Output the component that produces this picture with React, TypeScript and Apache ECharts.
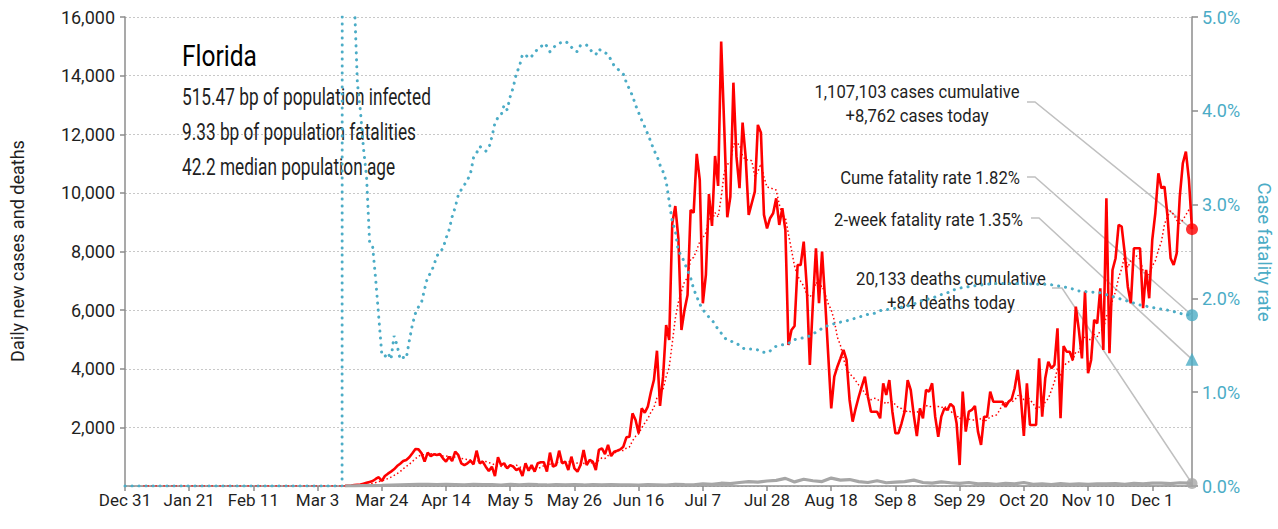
import React, { useEffect, useRef } from "react";
import * as echarts from "echarts";

// ---------- data ----------
const START_UTC = Date.UTC(2019, 11, 31); // day 0 = Dec 31, 2019
const MONTHS = ["Jan", "Feb", "Mar", "Apr", "May", "Jun", "Jul", "Aug", "Sep", "Oct", "Nov", "Dec"];
const LAST_DAY = 349; // Dec 14, 2020
const TICK_STEP_DAYS = 21;

const STATE_NAME = "Florida";
const STAT_LINES = [
  "515.47 bp of population infected",
  "9.33 bp of population fatalities",
  "42.2 median population age",
];
const CASES_CUMULATIVE_TEXT = ["1,107,103 cases cumulative", "+8,762 cases today"];
const CUME_CFR_TEXT = "Cume fatality rate 1.82%";
const TWO_WEEK_CFR_TEXT = "2-week fatality rate 1.35%";
const DEATHS_CUMULATIVE_TEXT = ["20,133 deaths cumulative", "+84 deaths today"];
const LEFT_AXIS_NAME = "Daily new cases and deaths";
const RIGHT_AXIS_NAME = "Case fatality rate";

const CASES_TODAY = 8762;
const DEATHS_TODAY = 84;
const CUME_CFR = 1.82;
const TWO_WEEK_CFR = 1.35;

// daily new cases, starting at day 72 (Mar 12)
const CASES_START_DAY = 72;
const DAILY_CASES = [
  5, 10, 15, 30, 40, 50, 80, 110, 140, 170,
  240, 300, 170, 340, 420, 490, 570, 680, 760, 850,
  890, 980, 1115, 1260, 1250, 1115, 830, 1140, 1020, 1080,
  1060, 1090, 945, 830, 1000, 850, 1170, 1060, 775, 715,
  775, 865, 740, 1205, 775, 830, 660, 510, 660, 340,
  980, 715, 775, 600, 715, 660, 545, 600, 340, 775,
  520, 715, 490, 775, 810, 810, 490, 1140, 660, 715,
  1205, 775, 830, 545, 1000, 600, 490, 715, 1230, 715,
  890, 830, 545, 1230, 1285, 1090, 1400, 1020, 1170, 1205,
  1250, 1340, 1660, 1680, 2480, 2250, 1800, 2650, 2500, 2705,
  3200, 3615, 4615, 2730, 3730, 5490, 4980, 8960, 9550, 8450,
  5320, 6000, 6515, 9415, 9325, 11330, 10440, 6235, 7200, 9960,
  8870, 11260, 10235, 15160, 12260, 9170, 9870, 13760, 11235, 10160,
  12395, 11235, 9250, 9645, 10040, 12320, 12055, 9250, 8790, 9135,
  9305, 9815, 8905, 9475, 8735, 4810, 5320, 5460, 7540, 7540,
  8335, 6800, 4130, 6235, 8110, 6235, 7995, 6345, 4500, 2650,
  3730, 4070, 4350, 4640, 4300, 2935, 2195, 2650, 3045, 3400,
  3730, 3045, 2535, 2535, 2535, 2310, 3505, 3105, 3615, 2535,
  1800, 1800, 2140, 2535, 3615, 3275, 2420, 1705, 2650, 2310,
  3275, 3220, 3505, 2365, 1680, 2365, 2650, 2595, 2800, 2705,
  2140, 715, 3220, 1855, 2535, 2595, 2730, 1855, 1400, 2365,
  2365, 3220, 2875, 2875, 2875, 2875, 2705, 2875, 2960, 3335,
  3960, 3045, 1705, 3505, 2080, 2080, 2080, 4355, 2365, 3675,
  4240, 4015, 4130, 5380, 2310, 4775, 4580, 4580, 4300, 6120,
  5320, 4355, 6630, 3845, 4300, 5665, 5550, 6745, 4640, 9815,
  4530, 7370, 7770, 8905, 8850, 7940, 6800, 6235, 8110, 8110,
  8110, 6065, 7370, 6405, 8395, 9305, 10670, 10160, 10215, 9190,
  7770, 7540, 7940, 9870, 11010, 11405, 10440, 8762,
];

// daily deaths [day, deaths]
const DAILY_DEATHS: [number, number][] = [
  [72, 0], [75, 5], [78, 10], [81, 15], [84, 20], [87, 30], [90, 40], [93, 50], [96, 60], [99, 55],
  [102, 45], [105, 60], [108, 50], [111, 40], [114, 60], [117, 45], [120, 50], [123, 30], [126, 55], [129, 40],
  [132, 60], [135, 45], [138, 35], [141, 50], [144, 40], [147, 45], [150, 35], [153, 50], [156, 40], [159, 45],
  [162, 35], [165, 40], [168, 30], [171, 45], [174, 40], [177, 30], [180, 60], [183, 45], [186, 40], [189, 70],
  [192, 60], [195, 95], [198, 80], [201, 120], [204, 150], [207, 130], [210, 170], [213, 190], [216, 260], [219, 140],
  [222, 230], [225, 180], [228, 150], [231, 270], [234, 200], [237, 220], [240, 150], [243, 120], [246, 180], [249, 110],
  [252, 130], [255, 150], [258, 200], [261, 120], [264, 100], [267, 140], [270, 110], [273, 90], [276, 120], [279, 70],
  [282, 80], [285, 60], [288, 90], [291, 70], [294, 120], [297, 60], [300, 70], [303, 50], [306, 80], [309, 60],
  [312, 70], [315, 60], [318, 75], [321, 70], [324, 80], [327, 60], [330, 90], [333, 75], [336, 95], [339, 100],
  [342, 80], [345, 110], [348, 95], [349, 84],
];

// cumulative case fatality rate, percent [day, pct]
const CFR_PCT: [number, number][] = [
  [0, 0], [71, 0], [72, 100], [74, 100], [75, 5.2], [76, 4.3], [77, 4.0], [78, 3.6], [79, 3.3], [80, 2.6],
  [81, 2.55], [82, 2.2], [83, 1.8], [84, 1.4], [85, 1.38], [86, 1.42], [87, 1.35], [88, 1.6], [89, 1.5], [90, 1.35],
  [91, 1.37], [92, 1.36], [93, 1.55], [94, 1.72], [95, 1.84], [96, 1.91], [97, 1.96], [98, 2.1], [99, 2.23], [100, 2.27],
  [101, 2.35], [102, 2.45], [103, 2.5], [104, 2.53], [105, 2.64], [106, 2.73], [107, 2.87], [108, 2.97], [109, 3.1], [110, 3.16],
  [111, 3.21], [112, 3.26], [113, 3.33], [114, 3.5], [115, 3.55], [116, 3.62], [117, 3.6], [118, 3.57], [119, 3.6], [120, 3.72],
  [121, 3.87], [122, 3.93], [123, 3.95], [124, 4.06], [125, 4.01], [126, 4.15], [127, 4.25], [128, 4.4], [129, 4.47], [130, 4.6],
  [131, 4.6], [132, 4.56], [133, 4.58], [134, 4.62], [135, 4.66], [136, 4.68], [137, 4.72], [138, 4.69], [139, 4.63], [140, 4.67],
  [141, 4.7], [142, 4.72], [143, 4.73], [144, 4.74], [145, 4.72], [146, 4.68], [147, 4.64], [148, 4.63], [149, 4.7], [150, 4.7],
  [151, 4.7], [152, 4.66], [153, 4.62], [154, 4.6], [155, 4.66], [156, 4.63], [157, 4.62], [158, 4.6], [159, 4.54], [160, 4.48],
  [161, 4.45], [162, 4.42], [163, 4.39], [164, 4.3], [165, 4.23], [166, 4.16], [167, 4.06], [168, 3.98], [169, 3.9], [170, 3.83],
  [171, 3.75], [172, 3.67], [173, 3.58], [174, 3.52], [175, 3.42], [176, 3.35], [177, 3.25], [178, 3.03], [179, 2.82], [180, 2.72],
  [181, 2.5], [182, 2.46], [183, 2.38], [184, 2.3], [185, 2.22], [186, 2.1], [187, 2.02], [188, 1.94], [189, 1.88], [190, 1.84],
  [191, 1.8], [192, 1.77], [193, 1.72], [194, 1.67], [195, 1.63], [196, 1.58], [197, 1.56], [198, 1.55], [199, 1.53], [200, 1.52],
  [201, 1.5], [202, 1.47], [203, 1.46], [206, 1.46], [207, 1.45], [208, 1.43], [210, 1.42], [211, 1.44], [212, 1.47], [213, 1.49],
  [214, 1.5], [216, 1.51], [217, 1.52], [218, 1.54], [219, 1.56], [220, 1.57], [222, 1.58], [224, 1.6], [227, 1.66], [229, 1.7],
  [231, 1.72], [233, 1.74], [236, 1.76], [238, 1.78], [240, 1.8], [243, 1.83], [245, 1.84], [247, 1.87], [249, 1.88], [251, 1.89],
  [253, 1.9], [255, 1.91], [258, 1.94], [260, 1.97], [262, 1.99], [264, 2.0], [266, 2.03], [269, 2.06], [271, 2.09], [273, 2.11],
  [275, 2.12], [277, 2.13], [279, 2.14], [282, 2.15], [284, 2.16], [293, 2.16], [299, 2.15], [302, 2.15], [306, 2.13], [309, 2.11],
  [312, 2.08], [315, 2.07], [319, 2.06], [322, 2.03], [325, 2.0], [329, 1.96], [332, 1.93], [335, 1.91], [338, 1.89], [342, 1.87],
  [345, 1.84], [349, 1.82],
];

const LEFT_MAX = 16000;
const LEFT_STEP = 2000;
const RIGHT_MAX = 5;
const RIGHT_STEP = 1;

// ---------- styling helpers ----------
const FONT = "Roboto, 'Liberation Sans', sans-serif";
const RED = "#ff0000";
const BLUE = "#4bacc6";
const GRAY = "#a6a6a6";
const LEADER = "#c0c0c0";
const AXIS = "#8c8c8c";
const INK = "#1f1f1f";

function dayLabel(d: number): string {
  const dt = new Date(START_UTC + d * 86400000);
  return MONTHS[dt.getUTCMonth()] + " " + dt.getUTCDate();
}

function buildCases(): [number, number][] {
  return DAILY_CASES.map((v, i) => [CASES_START_DAY + i, v]);
}

// trailing 7-day average of the daily cases (zero before the first reported day)
function buildAvg(): [number, number][] {
  const daily: number[] = [];
  for (let d = 0; d <= LAST_DAY; d++) {
    const i = d - CASES_START_DAY;
    daily.push(i >= 0 && i < DAILY_CASES.length ? DAILY_CASES[i] : 0);
  }
  const out: [number, number][] = [];
  for (let d = 6; d <= LAST_DAY; d++) {
    let s = 0;
    for (let k = d - 6; k <= d; k++) s += daily[k];
    out.push([d, s / 7]);
  }
  return out;
}

let measureCtx: CanvasRenderingContext2D | null = null;
function measure(text: string, size: number, weight = "normal"): number {
  if (!measureCtx) measureCtx = document.createElement("canvas").getContext("2d");
  if (!measureCtx) return text.length * size * 0.5;
  measureCtx.font = `${weight} ${size}px ${FONT}`;
  return measureCtx.measureText(text).width;
}

export default function App() {
  const ref = useRef<HTMLDivElement>(null);

  useEffect(() => {
    document.body.style.margin = "0";
    if (!ref.current) return;
    const chart = echarts.init(ref.current, null, { renderer: "svg" });

    const option: any = {
      animation: false,
      textStyle: { fontFamily: FONT },
      grid: { left: 125, right: 86, top: 17, bottom: 43 },
      xAxis: {
        type: "value",
        min: 0,
        max: LAST_DAY,
        interval: TICK_STEP_DAYS,
        axisLine: { show: true, lineStyle: { color: AXIS, width: 1.5 } },
        axisTick: { show: true, length: 5, lineStyle: { color: AXIS, width: 1.5 } },
        axisLabel: {
          color: INK,
          fontSize: 17,
          fontFamily: FONT,
          margin: 5,
          showMaxLabel: false,
          formatter: (v: number) => (v % TICK_STEP_DAYS === 0 ? dayLabel(v) : ""),
        },
        splitLine: { show: false },
      },
      yAxis: [
        {
          type: "value",
          min: 0,
          max: LEFT_MAX,
          interval: LEFT_STEP,
          axisLine: { show: true, lineStyle: { color: AXIS, width: 1.5 } },
          axisTick: { show: true, length: 5, lineStyle: { color: AXIS, width: 1.5 } },
          axisLabel: {
            color: INK,
            fontSize: 18,
            fontFamily: FONT,
            margin: 10,
            showMinLabel: false,
            formatter: (v: number) => v.toLocaleString("en-US"),
          },
          splitLine: { show: true, lineStyle: { color: "#c8c8c8", type: [2, 2], width: 1.2 } },
        },
        {
          type: "value",
          position: "right",
          min: 0,
          max: RIGHT_MAX,
          interval: RIGHT_STEP,
          axisLine: { show: true, lineStyle: { color: AXIS, width: 1.5 } },
          axisTick: { show: true, length: 6, lineStyle: { color: AXIS, width: 1.5 } },
          axisLabel: {
            color: BLUE,
            fontSize: 18,
            fontFamily: FONT,
            margin: 10,
            formatter: (v: number) => v.toFixed(1) + "%",
          },
          splitLine: { show: false },
        },
      ],
      series: [
        {
          name: "7-day average",
          type: "line",
          data: buildAvg(),
          showSymbol: false,
          symbol: "none",
          lineStyle: { color: RED, width: 1.5, type: [1.5, 2.5] },
          z: 2,
        },
        {
          name: "Daily new cases",
          type: "line",
          data: buildCases(),
          showSymbol: false,
          symbol: "none",
          lineStyle: { color: RED, width: 2.6 },
          z: 3,
        },
        {
          name: "Daily deaths",
          type: "line",
          data: DAILY_DEATHS,
          showSymbol: false,
          symbol: "none",
          lineStyle: { color: GRAY, width: 3.2 },
          z: 4,
        },
        {
          name: "Case fatality rate",
          type: "line",
          yAxisIndex: 1,
          data: CFR_PCT,
          showSymbol: false,
          symbol: "none",
          lineStyle: { color: BLUE, width: 3, type: [0.1, 6.9], cap: "round" },
          z: 5,
        },
        {
          type: "scatter",
          data: [[LAST_DAY, CASES_TODAY]],
          symbol: "circle",
          symbolSize: 12,
          itemStyle: { color: RED },
          clip: false,
          z: 6,
        },
        {
          type: "scatter",
          data: [[LAST_DAY, DEATHS_TODAY]],
          symbol: "circle",
          symbolSize: 11,
          itemStyle: { color: GRAY },
          clip: false,
          z: 6,
        },
        {
          type: "scatter",
          yAxisIndex: 1,
          data: [[LAST_DAY, CUME_CFR]],
          symbol: "circle",
          symbolSize: 12,
          itemStyle: { color: BLUE },
          clip: false,
          z: 6,
        },
        {
          type: "scatter",
          yAxisIndex: 1,
          data: [[LAST_DAY, TWO_WEEK_CFR]],
          symbol: "triangle",
          symbolSize: 13,
          itemStyle: { color: BLUE },
          clip: false,
          z: 6,
        },
      ],
    };
    chart.setOption(option);

    const pCases = chart.convertToPixel({ xAxisIndex: 0, yAxisIndex: 0 }, [LAST_DAY, CASES_TODAY]) as number[];
    const pDeaths = chart.convertToPixel({ xAxisIndex: 0, yAxisIndex: 0 }, [LAST_DAY, DEATHS_TODAY]) as number[];
    const pCfr = chart.convertToPixel({ xAxisIndex: 0, yAxisIndex: 1 }, [LAST_DAY, CUME_CFR]) as number[];
    const pCfr2 = chart.convertToPixel({ xAxisIndex: 0, yAxisIndex: 1 }, [LAST_DAY, TWO_WEEK_CFR]) as number[];

    // condensed look: each group of texts is squeezed horizontally to the width the reference shows
    const titleScale = 75 / measure(STATE_NAME, 30);
    const statScale = 249 / measure(STAT_LINES[0], 23);
    const noteScale = 205 / measure(CASES_CUMULATIVE_TEXT[0], 19);
    const leftNameScale = 222 / measure(LEFT_AXIS_NAME, 18);
    const rightNameScale = 139 / measure(RIGHT_AXIS_NAME, 19);

    const txt = (
      text: string,
      x: number,
      y: number,
      size: number,
      align: string,
      scale: number,
      fill = INK,
      rotation = 0
    ) => ({
      type: "text",
      x,
      y,
      scaleX: scale,
      rotation,
      silent: true,
      style: {
        text,
        fill,
        font: `${size}px ${FONT}`,
        textAlign: align,
        textVerticalAlign: "middle",
        verticalAlign: "middle",
      },
    });
    const leader = (pts: number[][]) => ({
      type: "polyline",
      silent: true,
      shape: { points: pts },
      style: { stroke: LEADER, lineWidth: 1.5, fill: null },
      z: 1,
    });

    chart.setOption({
      graphic: [
        txt(STATE_NAME, 182, 56, 30, "left", titleScale, "#000"),
        txt(STAT_LINES[0], 182, 97, 23, "left", statScale),
        txt(STAT_LINES[1], 182, 132, 23, "left", statScale),
        txt(STAT_LINES[2], 182, 167, 23, "left", statScale),
        txt(CASES_CUMULATIVE_TEXT[0], 917, 91, 19, "center", noteScale),
        txt(CASES_CUMULATIVE_TEXT[1], 917, 115, 19, "center", noteScale),
        txt(CUME_CFR_TEXT, 1020, 177, 19, "right", noteScale),
        txt(TWO_WEEK_CFR_TEXT, 1023, 219, 19, "right", noteScale),
        txt(DEATHS_CUMULATIVE_TEXT[0], 951, 278, 19, "center", noteScale),
        txt(DEATHS_CUMULATIVE_TEXT[1], 951, 302, 19, "center", noteScale),
        txt(LEFT_AXIS_NAME, 18, 251, 18, "center", leftNameScale, INK, Math.PI / 2),
        txt(RIGHT_AXIS_NAME, 1264, 252, 19, "center", rightNameScale, BLUE, -Math.PI / 2),
        leader([[1027, 102], [1035, 102], [pCases[0], pCases[1]]]),
        leader([[1027, 177], [1035, 177], [pCfr[0], pCfr[1]]]),
        leader([[1031, 218], [1039, 218], [pCfr2[0], pCfr2[1]]]),
        leader([[1052, 288], [1062, 288], [pDeaths[0], pDeaths[1]]]),
      ],
    });

    return () => chart.dispose();
  }, []);

  return <div ref={ref} style={{ width: 1278, height: 529 }} />;
}
